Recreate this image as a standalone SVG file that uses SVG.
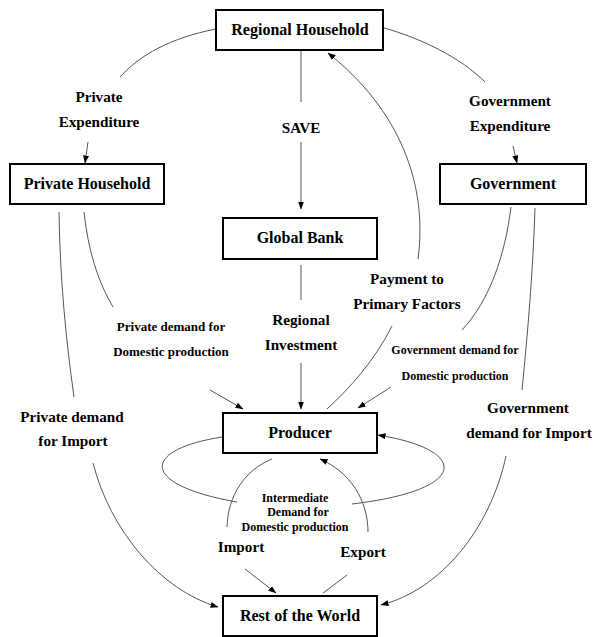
<svg xmlns="http://www.w3.org/2000/svg" width="594" height="637" viewBox="0 0 594 637">
<defs>
<marker id="ah" markerWidth="8" markerHeight="6" refX="7.5" refY="3" orient="auto" markerUnits="userSpaceOnUse">
<path d="M0,0 L8,3 L0,6 Z" fill="#000"/>
</marker>
<style>
.box{fill:#fff;stroke:#000;stroke-width:2}
.bt{font-family:"Liberation Serif","DejaVu Serif",serif;font-weight:bold;font-size:16px;text-anchor:middle;fill:#000}
.lb{font-family:"Liberation Serif","DejaVu Serif",serif;font-weight:bold;font-size:15.2px;text-anchor:middle;fill:#000}
.sm{font-family:"Liberation Serif","DejaVu Serif",serif;font-weight:bold;font-size:13px;text-anchor:middle;fill:#000}
.xs{font-family:"Liberation Serif","DejaVu Serif",serif;font-weight:bold;font-size:12px;text-anchor:middle;fill:#000}
.c{fill:none;stroke:#555;stroke-width:1}
.a{marker-end:url(#ah)}
</style>
</defs>
<rect width="594" height="637" fill="#fff"/>
<g id="connectors">
<!-- SAVE -->
<path class="c" d="M301,50 L301,102"/>
<path class="c a" d="M301,142 L301,209"/>
<!-- Regional Investment -->
<path class="c" d="M301,265 L301,300"/>
<path class="c a" d="M301,363 L301,409"/>
<!-- Private Expenditure -->
<path class="c" d="M216,29 C170,38 140,55 120,77"/>
<path class="c a" d="M88,142 L85,163"/>
<!-- Government Expenditure -->
<path class="c" d="M384,28 C420,38 460,57 485,82"/>
<path class="c a" d="M513,146 L517,163"/>
<!-- Payment to Primary Factors -->
<path class="c" d="M327,409 C350,388 375,360 392,326"/>
<path class="c a" d="M418,259 C428,185 400,110 328,53"/>
<!-- Private demand for Domestic production -->
<path class="c" d="M84,212 C88,250 98,282 113,307"/>
<path class="c a" d="M210,390 L243,409"/>
<!-- Private demand for Import -->
<path class="c" d="M59,212 C60,280 66,340 74,397"/>
<path class="c a" d="M93,463 C110,530 160,590 218,607"/>
<!-- Government demand for Domestic production -->
<path class="c" d="M511,207 C505,255 490,300 462,330"/>
<path class="c a" d="M391,387 L358,408"/>
<!-- Government demand for Import -->
<path class="c" d="M535,208 C533,270 528,330 522,390"/>
<path class="c a" d="M506,456 C490,530 440,590 381,605"/>
<!-- Intermediate demand loop -->
<path class="c" d="M222,437 C140,450 140,485 237,502"/>
<path class="c a" d="M352,504 C470,490 470,450 378,435"/>
<!-- Import -->
<path class="c" d="M272,459 C245,470 228,495 227,527"/>
<path class="c a" d="M245,569 L276,593"/>
<!-- Export -->
<path class="c" d="M323,593 L347,575"/>
<path class="c a" d="M368,532 C368,500 350,472 320,459"/>
</g>
<g id="regional-household">
<rect class="box" x="216" y="10" width="167" height="40"/>
<text class="bt" x="300" y="35">Regional Household</text>
</g>
<g id="private-household">
<rect class="box" x="10" y="164" width="154" height="40"/>
<text class="bt" x="87" y="189">Private Household</text>
</g>
<g id="government">
<rect class="box" x="440" y="164" width="146" height="40"/>
<text class="bt" x="513" y="189">Government</text>
</g>
<g id="global-bank">
<rect class="box" x="223" y="218" width="154" height="41"/>
<text class="bt" x="300" y="243">Global Bank</text>
</g>
<g id="producer">
<rect class="box" x="223" y="413" width="154" height="40"/>
<text class="bt" x="300" y="438">Producer</text>
</g>
<g id="rest-of-world">
<rect class="box" x="223" y="596" width="154" height="40"/>
<text class="bt" x="300" y="621">Rest of the World</text>
</g>
<g id="labels">
<text class="lb" x="301" y="133">SAVE</text>
<text class="lb" x="99" y="102">Private</text>
<text class="lb" x="99" y="127">Expenditure</text>
<text class="lb" x="510" y="106">Government</text>
<text class="lb" x="510" y="131">Expenditure</text>
<text class="lb" x="301" y="325">Regional</text>
<text class="lb" x="301" y="350">Investment</text>
<text class="lb" x="407" y="284">Payment to</text>
<text class="lb" x="407" y="309">Primary Factors</text>
<text class="sm" x="171" y="331">Private demand for</text>
<text class="sm" x="171" y="356">Domestic production</text>
<text class="xs" x="455" y="354">Government demand for</text>
<text class="xs" x="455" y="380">Domestic production</text>
<text class="lb" x="72" y="422">Private demand</text>
<text class="lb" x="73" y="446">for Import</text>
<text class="lb" x="528" y="413">Government</text>
<text class="lb" x="529" y="438">demand for Import</text>
<text class="xs" x="295" y="502">Intermediate</text>
<text class="xs" x="298" y="516">Demand for</text>
<text class="xs" x="295" y="531">Domestic production</text>
<text class="lb" x="241" y="552">Import</text>
<text class="lb" x="363" y="557">Export</text>
</g>
</svg>
